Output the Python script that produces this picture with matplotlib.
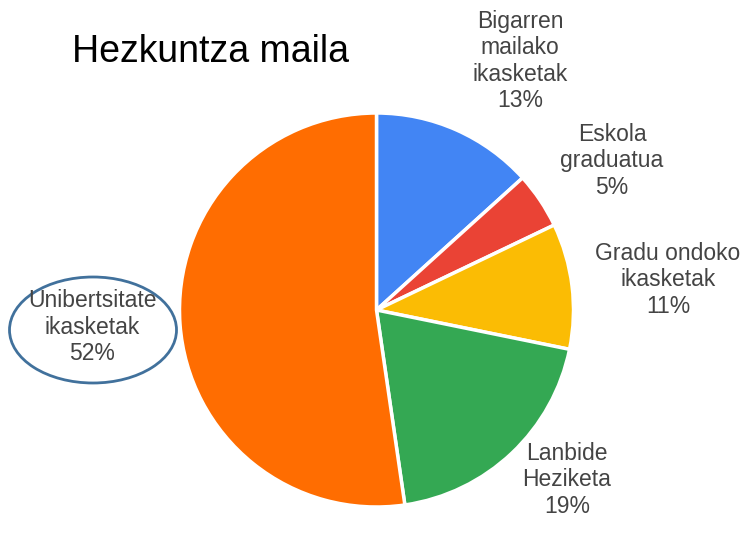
import matplotlib
matplotlib.use("Agg")
import matplotlib.pyplot as plt
from matplotlib.patches import Ellipse

categories = ["Bigarren\nmailako\nikasketak", "Eskola\ngraduatua", "Gradu ondoko\nikasketak",
              "Lanbide\nHeziketa", "Unibertsitate\nikasketak"]
values = [13.3, 4.6, 10.3, 19.5, 52.3]
pct_labels = ["13%", "5%", "11%", "19%", "52%"]
colors = ["#4285F4", "#EA4335", "#FBBC04", "#34A853", "#FF6D01"]
title = "Hezkuntza maila"

W, H = 751, 544
fig = plt.figure(figsize=(W / 100, H / 100), dpi=100)
ax = fig.add_axes([0, 0, 1, 1])
ax.set_xlim(0, W)
ax.set_ylim(0, H)
ax.set_aspect("equal")
ax.axis("off")

cx, cy, r = 376.5, H - 310, 197
ax.pie(values, colors=colors, startangle=90, counterclock=False,
       center=(cx, cy), radius=r, frame=True,
       wedgeprops=dict(edgecolor="white", linewidth=2.5))
ax.set_xlim(0, W)
ax.set_ylim(0, H)
ax.axis("off")

font = "Liberation Sans"
label_pos = [(520, 61), (612, 161), (668, 280), (567, 480), (92, 327)]
for cat, pct, (px, py) in zip(categories, pct_labels, label_pos):
    ax.text(px, H - py, cat + "\n" + pct, ha="center", va="center",
            fontsize=16.5, color="#444444", family=font, linespacing=1.18)

ax.text(72, H - 52, title, ha="left", va="center", fontsize=27,
        color="black", family=font)

ax.add_patch(Ellipse((93, H - 330), 167, 106, fill=False,
                     edgecolor="#41719C", linewidth=2))

fig.savefig("out.png", dpi=100)
